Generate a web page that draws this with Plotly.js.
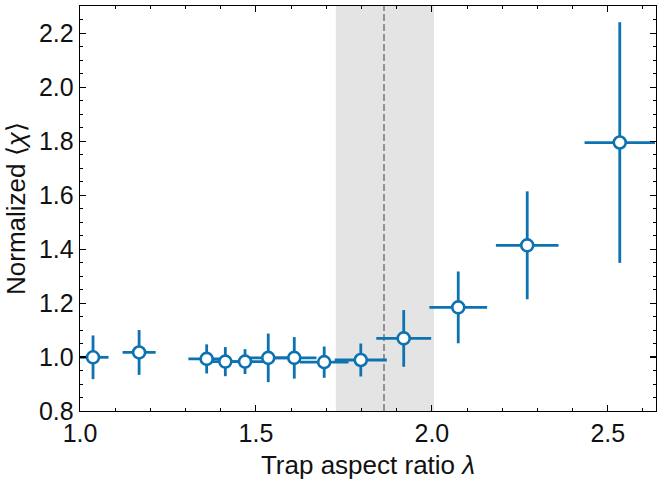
<!DOCTYPE html>
<html>
<head>
<meta charset="utf-8">
<script src="https://cdn.plot.ly/plotly-3.0.1.min.js"></script>
<style>html,body{margin:0;padding:0;background:#fff;}#chart{width:657px;height:485px;}</style>
</head>
<body>
<div id="chart"></div>
<script>
// Data
const lambdaVals = [1.037, 1.168, 1.360, 1.413, 1.469, 1.535, 1.609, 1.694, 1.798, 1.920, 2.075, 2.271, 2.534];
const chiNorm    = [0.999, 1.017, 0.993, 0.983, 0.983, 0.997, 0.997, 0.981, 0.989, 1.069, 1.184, 1.414, 1.795];
const lambdaErr  = [0.044, 0.047, 0.052, 0.052, 0.065, 0.062, 0.063, 0.069, 0.074, 0.078, 0.082, 0.089, 0.100];
const chiErr     = [0.081, 0.083, 0.054, 0.054, 0.046, 0.090, 0.077, 0.058, 0.061, 0.105, 0.133, 0.200, 0.446];
const bandRange  = [1.727, 2.006];
const criticalLambda = 1.864;
const xTickVals = [1.0, 1.5, 2.0, 2.5];
const xTickText = ['1.0', '1.5', '2.0', '2.5'];
const yTickVals = [0.8, 1.0, 1.2, 1.4, 1.6, 1.8, 2.0, 2.2];
const yTickText = ['0.8', '1.0', '1.2', '1.4', '1.6', '1.8', '2.0', '2.2'];

const blue = '#0C72B0';
const fontFam = 'Liberation Sans, Arial, sans-serif';

const trace = {
  x: lambdaVals,
  y: chiNorm,
  type: 'scatter',
  mode: 'markers',
  marker: {size: 12, color: '#ffffff', line: {color: blue, width: 2.6}},
  error_x: {type: 'data', array: lambdaErr, visible: true, color: blue, thickness: 2.8, width: 0},
  error_y: {type: 'data', array: chiErr, visible: true, color: blue, thickness: 2.8, width: 0},
  showlegend: false,
  hoverinfo: 'skip'
};

const axisCommon = {
  showgrid: false,
  zeroline: false,
  showline: true,
  linecolor: '#000',
  linewidth: 1.3,
  mirror: 'allticks',
  ticks: 'inside',
  ticklen: 6,
  tickwidth: 1.1,
  tickcolor: '#000',
  tickfont: {family: fontFam, size: 25, color: '#111'}
};

const layout = {
  width: 657,
  height: 485,
  margin: {l: 80, r: 1, t: 6, b: 74},
  paper_bgcolor: '#fff',
  plot_bgcolor: '#fff',
  font: {family: fontFam, color: '#111'},
  xaxis: Object.assign({}, axisCommon, {
    range: [1.0, 2.637],
    tickvals: xTickVals,
    ticktext: xTickText,
    minor: {dtick: 0.1, tick0: 1.0, ticks: 'inside', ticklen: 3, tickwidth: 1, tickcolor: '#000'},
    title: {text: 'Trap aspect ratio <i>λ</i>', font: {size: 26, color: '#111'}, standoff: 9}
  }),
  yaxis: Object.assign({}, axisCommon, {
    range: [0.8, 2.301],
    tickvals: yTickVals,
    ticktext: yTickText,
    minor: {dtick: 0.05, tick0: 0.8, ticks: 'inside', ticklen: 3, tickwidth: 1, tickcolor: '#000'},
    title: {text: 'Normalized ⟨<i>χ</i>⟩', font: {size: 26, color: '#111'}, standoff: 5}
  }),
  shapes: [
    {type: 'rect', xref: 'x', yref: 'paper', x0: bandRange[0], x1: bandRange[1], y0: 0, y1: 1,
     fillcolor: '#e4e4e4', line: {width: 0}, layer: 'below'},
    {type: 'line', xref: 'x', yref: 'paper', x0: criticalLambda, x1: criticalLambda, y0: 0, y1: 1,
     line: {color: '#939393', width: 2, dash: '7px,3px'}, layer: 'below'}
  ]
};

Plotly.newPlot('chart', [trace], layout, {displayModeBar: false, staticPlot: true});
</script>
</body>
</html>
